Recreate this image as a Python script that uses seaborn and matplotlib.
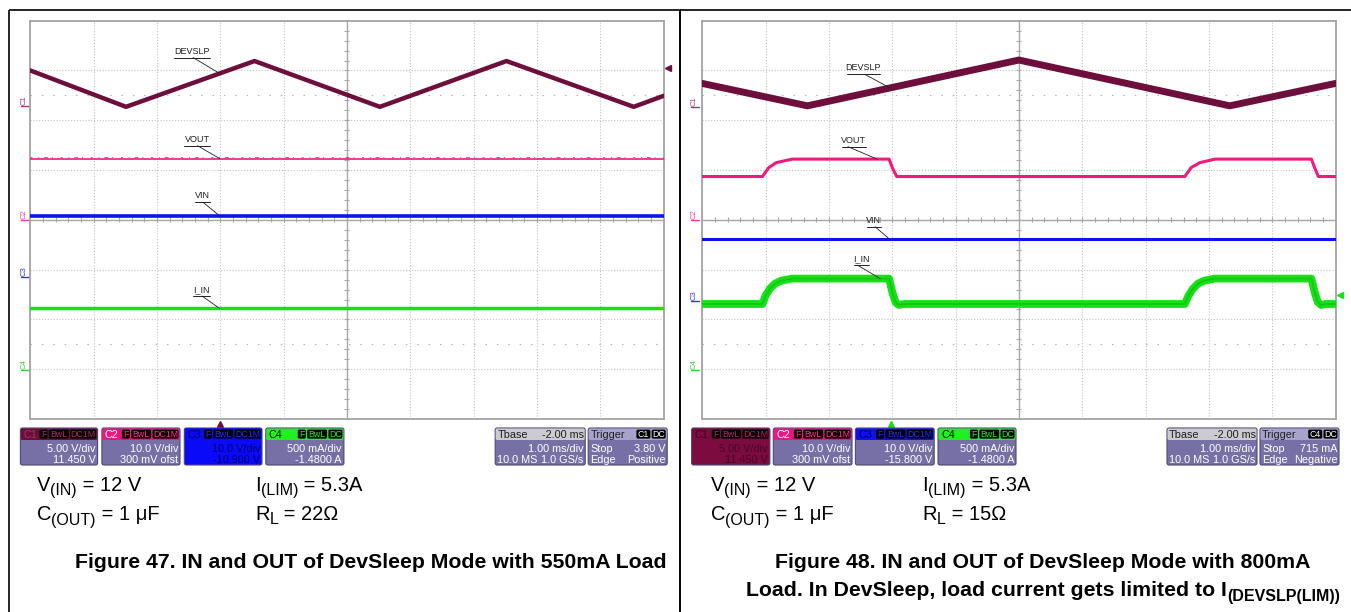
import numpy as np
import matplotlib.pyplot as plt
import seaborn as sns
from matplotlib.patches import FancyBboxPatch, Rectangle

W, H = 1351, 612

# scope traces: x in divisions (0..10 across, 1 ms/div), y in divisions (0..8 from bottom)
# Figure 47 - 550 mA load
f47_devslp_t = [0, 1.51, 3.54, 5.52, 7.52, 9.53, 10]
f47_devslp_v = [7.0, 6.27, 7.19, 6.27, 7.19, 6.27, 6.49]
f47_vout_t = [0, 10]
f47_vout_v = [5.23, 5.23]
f47_vin_t = [0, 10]
f47_vin_v = [4.08, 4.08]
f47_iin_t = [0, 10]
f47_iin_v = [2.22, 2.22]

# Figure 48 - 800 mA load
f48_devslp_t = [0, 1.66, 5.0, 8.33, 10]
f48_devslp_v = [6.74, 6.29, 7.21, 6.29, 6.74]
f48_vout_t = [0, 0.95, 1.05, 1.17, 1.42, 2.95, 3.0, 3.07, 7.62, 7.72, 7.86, 8.10, 9.62, 9.67, 9.73, 10]
f48_vout_v = [4.87, 4.87, 5.05, 5.15, 5.22, 5.22, 5.05, 4.87, 4.87, 5.05, 5.15, 5.22, 5.22, 5.05, 4.87, 4.87]
f48_vin_t = [0, 10]
f48_vin_v = [3.61, 3.61]
f48_iin_t = [0, 0.95, 1.0, 1.07, 1.15, 1.25, 1.42, 2.95, 3.0, 3.05, 3.1, 3.2,
             7.62, 7.68, 7.75, 7.83, 7.93, 8.10, 9.62, 9.67, 9.72, 9.77, 9.85, 10]
f48_iin_v = [2.31, 2.31, 2.48, 2.62, 2.72, 2.78, 2.82, 2.82, 2.55, 2.35, 2.29, 2.31,
             2.31, 2.48, 2.62, 2.72, 2.78, 2.82, 2.82, 2.55, 2.35, 2.29, 2.31, 2.31]

# trace labels: name, text left, text right, underline y, leader start x, leader end x, leader end y
f47_labels = [('DEVSLP', 2.27, 2.83, 7.26, 2.57, 2.99, 6.94),
              ('VOUT', 2.43, 2.84, 5.49, 2.64, 2.99, 5.23),
              ('VIN', 2.60, 2.84, 4.35, 2.73, 2.99, 4.08),
              ('I_IN', 2.57, 2.84, 2.47, 2.71, 2.99, 2.22)]
f48_labels = [('DEVSLP', 2.28, 2.81, 6.92, 2.57, 2.95, 6.66),
              ('VOUT', 2.20, 2.59, 5.47, 2.30, 2.76, 5.22),
              ('VIN', 2.60, 2.82, 3.86, 2.73, 2.96, 3.61),
              ('I_IN', 2.40, 2.64, 3.09, 2.45, 2.81, 2.82)]

C_DEV = '#6e0e3c'
C_VOUT = '#ee1a7e'
C_VIN = '#0a14f0'
C_IIN = '#16e016'
BODY = '#7770a6'

sns.set_style('white')
plt.rcParams['font.family'] = ['Liberation Sans', 'DejaVu Sans']

fig = plt.figure(figsize=(W / 100, H / 100), dpi=100)
bg = fig.add_axes([0, 0, 1, 1], zorder=0)
bg.set_xlim(0, W)
bg.set_ylim(H, 0)
bg.axis('off')


def scope_axes(x0, x1, y0=20.7, y1=419):
    ax = fig.add_axes([x0 / W, 1 - y1 / H, (x1 - x0) / W, (y1 - y0) / H], zorder=2)
    ax.set_xlim(0, 10)
    ax.set_ylim(0, 8)
    ax.set_xticks(range(11))
    ax.set_yticks(range(9))
    ax.tick_params(length=0, labelbottom=False, labelleft=False)
    ax.grid(True, color='#c2c2c2', linestyle=(0, (1, 1.6)), linewidth=0.8)
    ax.set_axisbelow(True)
    for s in ax.spines.values():
        s.set_color('#a4a4a4')
        s.set_linewidth(1.3)
    ax.axhline(4, color='#a8a8a8', lw=1.0, zorder=1)
    ax.axvline(5, color='#a8a8a8', lw=1.0, zorder=1)
    minor = np.arange(0.2, 10, 0.2)
    ax.vlines(minor, 3.95, 4.05, color='#a8a8a8', lw=0.8, zorder=1)
    ax.hlines(np.arange(0.2, 8, 0.2), 4.96, 5.04, color='#a8a8a8', lw=0.8, zorder=1)
    ax.hlines([1.5, 6.5], 0, 10, color='#b4b4b4', lw=0.9, linestyle=(0, (1.2, 7.9)), zorder=1)
    ax.set_xlabel('')
    ax.set_ylabel('')
    return ax


def trace(ax, t, v, color, lw):
    sns.lineplot(x=t, y=v, ax=ax, color=color, linewidth=lw, sort=False,
                 estimator=None, legend=False, zorder=3)


def trace_labels(ax, labels):
    for name, xl, xr, yu, lx0, lx1, ly1 in labels:
        ax.text((xl + xr) / 2, yu + 0.04, name, fontsize=6.5, color='#202020',
                ha='center', va='bottom', zorder=5)
        ax.plot([xl, xr], [yu, yu], color='#202020', lw=0.7, zorder=5)
        ax.plot([lx0, lx1], [yu, ly1], color='#202020', lw=0.6, zorder=5)


ax47 = scope_axes(30.4, 663.5)
trace(ax47, f47_devslp_t, f47_devslp_v, C_DEV, 3.2)
trace(ax47, f47_vout_t, f47_vout_v, C_VOUT, 1.2)
ax47.plot(f47_vout_t, [v + 0.035 for v in f47_vout_v], color=C_VOUT, lw=0.7, alpha=0.8,
          linestyle=(0, (2, 6, 1, 5, 4, 4, 1, 8)), zorder=3)
trace(ax47, f47_vin_t, f47_vin_v, C_VIN, 2.6)
trace(ax47, f47_iin_t, f47_iin_v, C_IIN, 2.5)
trace_labels(ax47, f47_labels)

ax48 = scope_axes(702.3, 1335.5)
trace(ax48, f48_devslp_t, f48_devslp_v, C_DEV, 5.0)
trace(ax48, f48_vout_t, f48_vout_v, C_VOUT, 2.2)
trace(ax48, f48_vin_t, f48_vin_v, C_VIN, 2.2)
trace(ax48, f48_iin_t, f48_iin_v, C_IIN, 5.6)
ax48.plot(f48_iin_t, f48_iin_v, color='#0fb40f', lw=1.2, zorder=3, alpha=0.6)
trace_labels(ax48, f48_labels)

# channel ground markers on the left edge
for xc, items in [(24, [('C1', 100, '#b0306c'), ('C2', 214, '#ff3399'),
                        ('C3', 271, '#3030ff'), ('C4', 364, '#30d030')]),
                  (694, [('C1', 101, '#b0306c'), ('C2', 214, '#ff3399'),
                         ('C3', 295, '#3030ff'), ('C4', 364, '#30d030')])]:
    for name, yc, col in items:
        bg.text(xc, yc, name, rotation=90, fontsize=5.5, color=col, ha='center', va='center')
        bg.plot([xc - 3, xc + 5], [yc + 6, yc + 6], color=col, lw=1.0)

# trigger markers
bg.plot([668], [67.7], marker='<', color=C_DEV, markersize=4)
bg.plot([220], [424], marker='^', color=C_DEV, markersize=4)
bg.plot([1340], [295], marker='<', color=C_IIN, markersize=4)
bg.plot([891], [424], marker='^', color=C_IIN, markersize=4)


def chips(x1, labels, fg):
    cx = x1 - 1.5
    for lab in reversed(labels):
        w = 6 * len(lab) + 2
        cx -= w
        bg.add_patch(FancyBboxPatch((cx, 429.6), w, 9, boxstyle='round,pad=0,rounding_size=1.5',
                                    fc='black', ec='none', zorder=4))
        bg.text(cx + w / 2, 437.2, lab, fontsize=6.3, color=fg, ha='center', va='baseline', zorder=5)
        cx -= 1.3


def info_box(x0, x1, head, body, title, title_c, chip_labels, chip_c, line1, line2, text_c):
    bg.add_patch(FancyBboxPatch((x0, 428), x1 - x0, 37, boxstyle='round,pad=0,rounding_size=2',
                                fc=body, ec='#4e4878', lw=0.8, zorder=2))
    bg.add_patch(FancyBboxPatch((x0 + 0.5, 428.5), x1 - x0 - 1, 11.5,
                                boxstyle='round,pad=0,rounding_size=1.5',
                                fc=head, ec='none', zorder=3))
    bg.text(x0 + 3, 437.8, title, fontsize=7.8, color=title_c, ha='left', va='baseline', zorder=5)
    chips(x1, chip_labels, chip_c)
    bg.text(x1 - 2, 451.5, line1, fontsize=7.8, color=text_c, ha='right', va='baseline', zorder=5)
    bg.text(x1 - 2, 463, line2, fontsize=7.8, color=text_c, ha='right', va='baseline', zorder=5)


def time_boxes(x0, trig_chip, level, edge):
    # Tbase
    bx1 = x0 + 90
    bg.add_patch(FancyBboxPatch((x0, 428), 90, 37, boxstyle='round,pad=0,rounding_size=2',
                                fc=BODY, ec='#4e4878', lw=0.8, zorder=2))
    bg.add_patch(FancyBboxPatch((x0 + 0.5, 428.5), 89, 11.5, boxstyle='round,pad=0,rounding_size=1.5',
                                fc='#cbcbd1', ec='none', zorder=3))
    bg.text(x0 + 2, 437.8, 'Tbase', fontsize=7.8, color='#202020', va='baseline', zorder=5)
    bg.text(bx1 - 1.5, 437.8, '-2.00 ms', fontsize=7.8, color='#202020', ha='right', va='baseline', zorder=5)
    bg.text(bx1 - 1.5, 451.5, '1.00 ms/div', fontsize=7.8, color='white', ha='right', va='baseline', zorder=5)
    bg.text(x0 + 2, 463, '10.0 MS', fontsize=7.8, color='white', va='baseline', zorder=5)
    bg.text(bx1 - 1.5, 463, '1.0 GS/s', fontsize=7.8, color='white', ha='right', va='baseline', zorder=5)
    # Trigger
    tx0 = x0 + 93
    tx1 = tx0 + 79
    bg.add_patch(FancyBboxPatch((tx0, 428), 79, 37, boxstyle='round,pad=0,rounding_size=2',
                                fc=BODY, ec='#4e4878', lw=0.8, zorder=2))
    bg.add_patch(FancyBboxPatch((tx0 + 0.5, 428.5), 78, 11.5, boxstyle='round,pad=0,rounding_size=1.5',
                                fc='#a7a2cb', ec='none', zorder=3))
    bg.text(tx0 + 2, 437.8, 'Trigger', fontsize=7.8, color='#202020', va='baseline', zorder=5)
    chips(tx1, [trig_chip, 'DC'], 'white')
    bg.text(tx0 + 2, 451.5, 'Stop', fontsize=7.8, color='white', va='baseline', zorder=5)
    bg.text(tx1 - 1.5, 451.5, level, fontsize=7.8, color='white', ha='right', va='baseline', zorder=5)
    bg.text(tx0 + 2, 463, 'Edge', fontsize=7.8, color='white', va='baseline', zorder=5)
    bg.text(tx1 - 1.5, 463, edge, fontsize=7.8, color='white', ha='right', va='baseline', zorder=5)


# Figure 47 boxes
info_box(20.4, 97.6, '#6a0f38', BODY, 'C1', '#a3306a', ['F', 'BwL', 'DC1M'], '#b02a68',
         '5.00 V/div', '11.450 V', 'white')
info_box(101.9, 180, '#f0157e', BODY, 'C2', 'white', ['F', 'BwL', 'DC1M'], '#ff3399',
         '10.0 V/div', '300 mV ofst', 'white')
info_box(184.3, 262, '#0a0af8', '#0a0af8', 'C3', '#000060', ['F', 'BwL', 'DC1M'], '#2a2aff',
         '10.0 V/div', '-10.900 V', '#00006a')
info_box(265.8, 343.9, '#22ee22', BODY, 'C4', '#101010', ['F', 'BwL', 'DC'], '#22ee22',
         '500 mA/div', '-1.4800 A', 'white')
time_boxes(495.2, 'C1', '3.80 V', 'Positive')

# Figure 48 boxes
info_box(691.6, 769.9, '#7c0c40', '#7c0c40', 'C1', '#3a0820', ['F', 'BwL', 'DC1M'], '#b02a68',
         '5.00 V/div', '11.450 V', '#44082a')
info_box(773.3, 852, '#f0157e', BODY, 'C2', 'white', ['F', 'BwL', 'DC1M'], '#ff3399',
         '10.0 V/div', '300 mV ofst', 'white')
info_box(855.4, 934.2, '#1010f0', BODY, 'C3', '#000060', ['F', 'BwL', 'DC1M'], '#2a2aff',
         '10.0 V/div', '-15.800 V', 'white')
info_box(938, 1016, '#22ee22', BODY, 'C4', '#101010', ['F', 'BwL', 'DC'], '#22ee22',
         '500 mA/div', '-1.4800 A', 'white')
time_boxes(1167, 'C4', '715 mA', 'Negative')

renderer = fig.canvas.get_renderer()


def rich(x, y, parts, ha='left', weight='normal'):
    objs = []
    cx = x
    for s, size, dy in parts:
        t = bg.text(cx, y + dy, s, fontsize=size, fontweight=weight, color='black',
                    ha='left', va='baseline', zorder=5)
        cx += t.get_window_extent(renderer=renderer).width
        objs.append(t)
    if ha == 'center':
        shift = (cx - x) / 2
        for t in objs:
            px, py = t.get_position()
            t.set_x(px - shift)


P, S, D = 14.5, 11.5, 4.5
for x_a, x_b, rl in [(37, 255, '22Ω'), (711, 922.6, '15Ω')]:
    rich(x_a, 491, [('V', P, 0), ('(IN)', S, D), (' = 12 V', P, 0)])
    rich(x_b, 491, [('I', P, 0), ('(LIM)', S, D), (' = 5.3A', P, 0)])
    rich(x_a, 520, [('C', P, 0), ('(OUT)', S, D), (' = 1 μF', P, 0)])
    rich(x_b, 520, [('R', P, 0), ('L', S, D), (' = ' + rl, P, 0)])

rich(371, 568, [('Figure 47. IN and OUT of DevSleep Mode with 550mA Load', 15.3, 0)],
     ha='center', weight='bold')
rich(1043, 568, [('Figure 48. IN and OUT of DevSleep Mode with 800mA', 15.3, 0)],
     ha='center', weight='bold')
rich(1043, 596, [('Load. In DevSleep, load current gets limited to I', 15.3, 0),
                 ('(DEVSLP(LIM))', 11.5, 5)], ha='center', weight='bold')

# panel frames
bg.add_patch(Rectangle((8.5, 10), 671, 620, fill=False, ec='black', lw=1.2, zorder=1))
bg.add_patch(Rectangle((679.5, 10), 700, 620, fill=False, ec='black', lw=1.2, zorder=1))

fig.savefig('out.png', dpi=100)
